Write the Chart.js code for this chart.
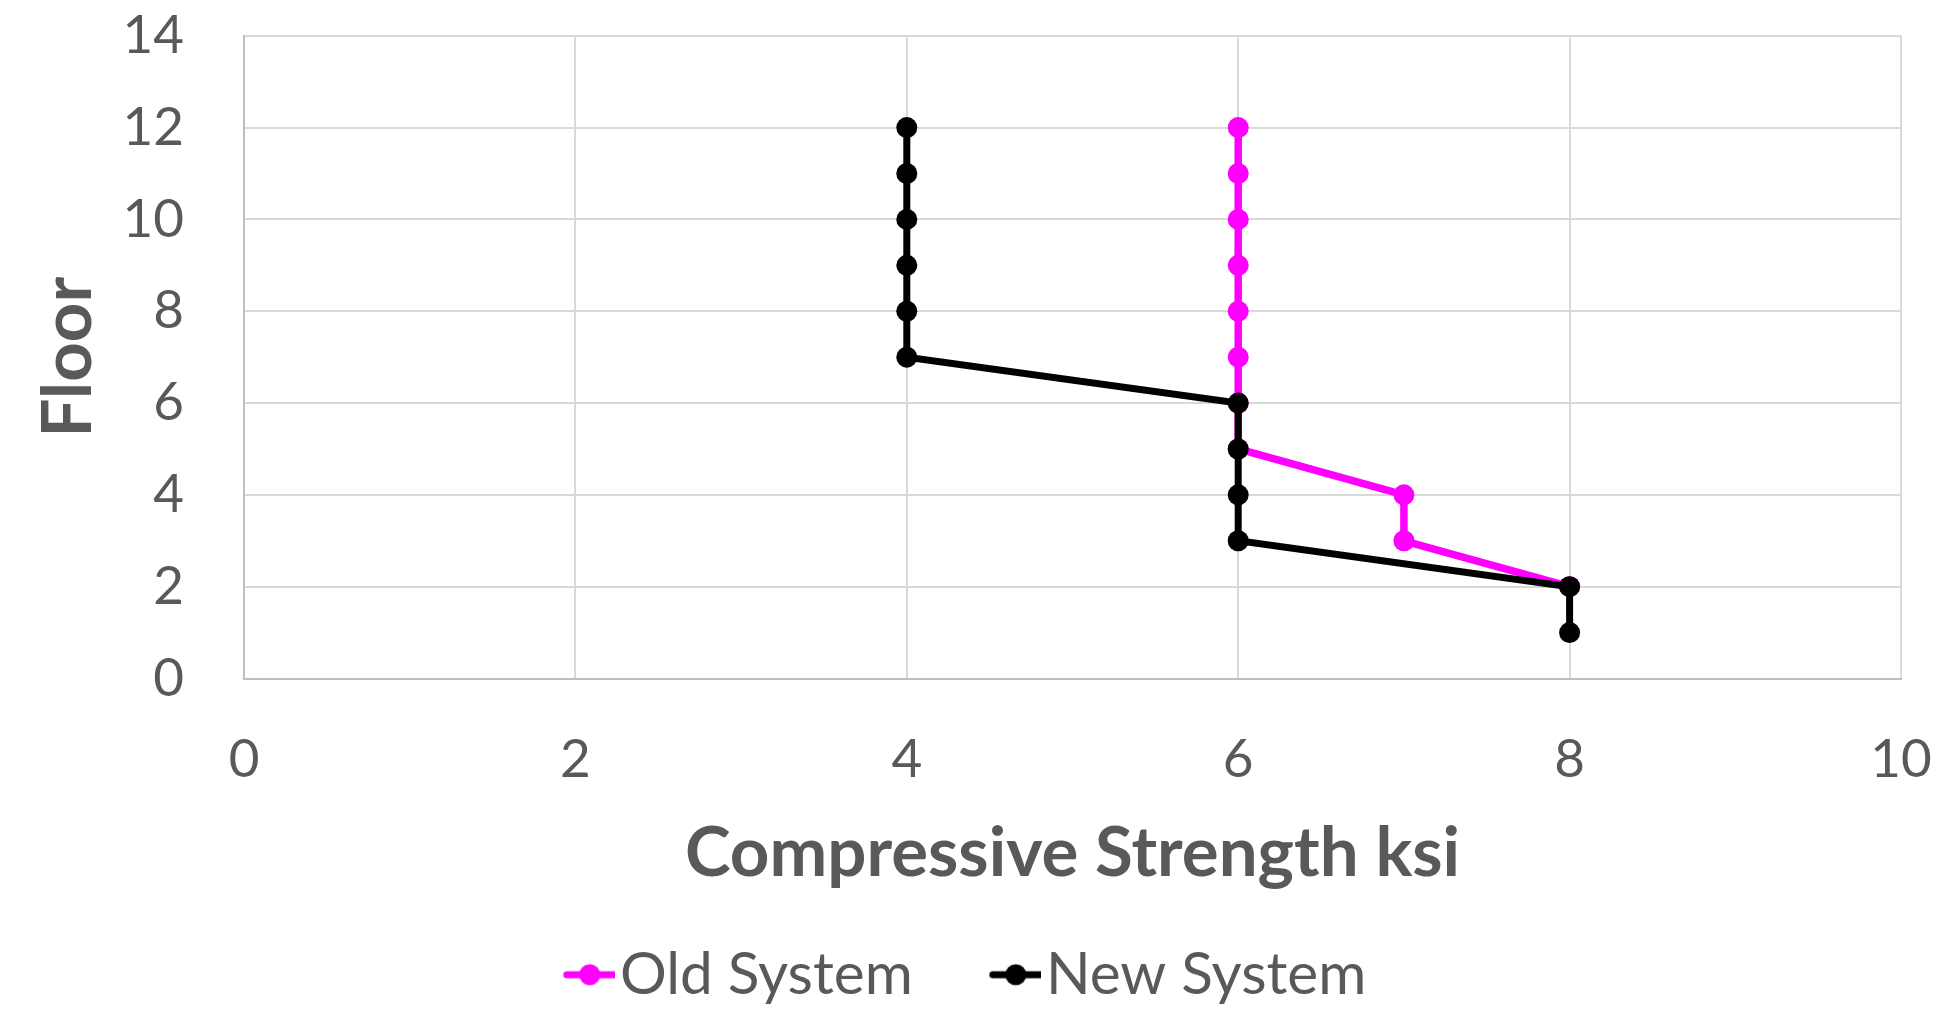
<!DOCTYPE html>
<html>
<head>
<meta charset="utf-8">
<script src="https://cdn.jsdelivr.net/npm/chart.js@4.4.0/dist/chart.umd.min.js"></script>
<style>
  html, body { margin: 0; padding: 0; background: #fff; }
  #wrap { width: 1960px; height: 1009px; }
</style>
</head>
<body>
<div id="wrap"><canvas id="myChart" width="1960" height="1009"></canvas></div>
<script>
const floorsOld = [12, 11, 10, 9, 8, 7, 6, 5, 4, 3, 2];
const strengthOld = [6, 6, 6, 6, 6, 6, 6, 6, 7, 7, 8];
const floorsNew = [12, 11, 10, 9, 8, 7, 6, 5, 4, 3, 2, 1];
const strengthNew = [4, 4, 4, 4, 4, 4, 6, 6, 6, 6, 8, 8];
const seriesNames = ['Old System', 'New System'];
const seriesColors = ['#ff00ff', '#000000'];

const FONT = 'Lato, "Open Sans", sans-serif';
const GREY = '#595959';

// legend icon: line with a dot, shifted right so it sits close to the text
function legendIcon(color) {
  const c = document.createElement('canvas');
  c.width = 104;
  c.height = 26;
  const g = c.getContext('2d');
  g.strokeStyle = color;
  g.lineWidth = 7;
  g.lineCap = 'round';
  g.beginPath();
  g.moveTo(56, 13);
  g.lineTo(103, 13);
  g.stroke();
  g.fillStyle = color;
  g.beginPath();
  g.arc(79, 13, 10.5, 0, Math.PI * 2);
  g.fill();
  return c;
}

const toPoints = (xs, ys) => xs.map((x, i) => ({ x, y: ys[i] }));

const ctx = document.getElementById('myChart').getContext('2d');

new Chart(ctx, {
  type: 'scatter',
  data: {
    datasets: [
      {
        label: seriesNames[0],
        data: toPoints(strengthOld, floorsOld),
        showLine: true,
        order: 1,
        borderColor: seriesColors[0],
        backgroundColor: seriesColors[0],
        borderWidth: 7.5,
        pointRadius: 10.5,
        pointBorderWidth: 0
      },
      {
        label: seriesNames[1],
        data: toPoints(strengthNew, floorsNew),
        showLine: true,
        order: 0,
        borderColor: seriesColors[1],
        backgroundColor: seriesColors[1],
        borderWidth: 7,
        pointRadius: 10.5,
        pointBorderWidth: 0
      }
    ]
  },
  options: {
    responsive: false,
    animation: false,
    layout: { padding: { left: 0, right: 59, top: 0, bottom: -5 } },
    plugins: {
      tooltip: { enabled: false },
      legend: {
        position: 'bottom',
        labels: {
          color: GREY,
          font: { family: FONT, size: 58.5 },
          usePointStyle: true,
          pointStyleWidth: 56,
          padding: 48,
          generateLabels: (chart) => chart.data.datasets.map((ds, i) => ({
            text: ds.label,
            fontColor: GREY,
            pointStyle: legendIcon(ds.borderColor),
            datasetIndex: i,
            lineWidth: 0
          })),
          sort: (a, b) => a.datasetIndex - b.datasetIndex
        }
      }
    },
    scales: {
      x: {
        type: 'linear',
        min: 0,
        max: 10,
        afterFit: (axis) => { axis.height = 219; },
        ticks: {
          stepSize: 2,
          color: GREY,
          font: { family: FONT, size: 53 },
          padding: 4
        },
        grid: { color: '#d9d9d9', lineWidth: 2, drawTicks: true, tickLength: 46, tickColor: 'rgba(0,0,0,0)' },
        border: { color: '#bfbfbf', width: 2 },
        title: {
          display: true,
          text: 'Compressive Strength ksi',
          color: GREY,
          font: { family: FONT, size: 69, weight: 'bold' },
          padding: { top: 0, bottom: 2 }
        }
      },
      y: {
        type: 'linear',
        min: 0,
        max: 14,
        afterFit: (axis) => { axis.width = 244; },
        ticks: {
          stepSize: 2,
          color: GREY,
          font: { family: FONT, size: 53 },
          padding: 4
        },
        grid: { color: '#d9d9d9', lineWidth: 2, drawTicks: true, tickLength: 56, tickColor: 'rgba(0,0,0,0)' },
        border: { color: '#bfbfbf', width: 2 },
        title: {
          display: true,
          text: 'Floor',
          color: GREY,
          font: { family: FONT, size: 69, weight: 'bold' },
          padding: { top: 27, bottom: 0 }
        }
      }
    }
  }
});
</script>
</body>
</html>
